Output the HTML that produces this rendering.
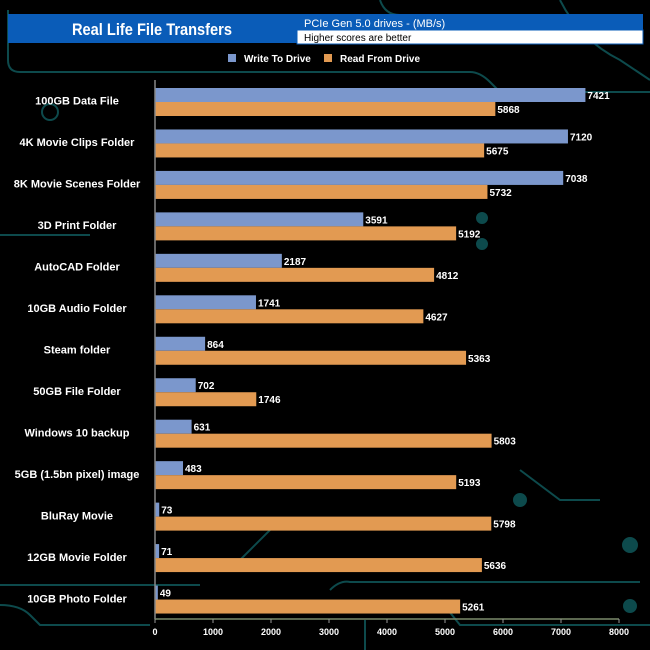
<!DOCTYPE html>
<html><head><meta charset="utf-8"><style>
html,body{margin:0;padding:0;background:#000;}
svg{display:block;font-family:"Liberation Sans",Arial,sans-serif;}
</style></head><body>
<svg id="c" width="650" height="650" viewBox="0 0 650 650">
<g stroke="#0d4a4c" stroke-width="2" fill="none">
<path d="M8 10 V60 Q8 72 20 72 H470 Q480 72 490 82 L500 92 H650"/>
<path d="M380 0 Q385 15 400 15"/>
<path d="M560 0 Q580 40 620 60 L650 80"/>
<path d="M0 235 H90"/><path d="M0 585 H200"/>
<path d="M0 605 Q20 605 30 615 L40 625 H150"/>
<path d="M330 590 Q340 580 350 582 H640"/>
<path d="M440 600 L460 625 H650"/>
<path d="M240 560 L280 520 H420"/>
<path d="M520 470 L560 500 L600 500"/>
<path d="M365 620 V650"/>
<circle cx="630" cy="545" r="7" fill="#0d4a4c"/>
<circle cx="630" cy="606" r="6" fill="#0d4a4c"/>
<circle cx="520" cy="500" r="6" fill="#0d4a4c"/>
<circle cx="482" cy="218" r="5" fill="#0d4a4c"/>
<circle cx="482" cy="244" r="5" fill="#0d4a4c"/>
<circle cx="50" cy="112" r="8"/>
</g>
<g>
<rect x="8" y="14" width="289" height="29" fill="#0a5cb8"/>
<text x="72" y="35" fill="#fff" font-size="17" font-weight="bold" textLength="160" lengthAdjust="spacingAndGlyphs">Real Life File Transfers</text>
<rect x="297" y="14" width="346" height="16" fill="#0a5cb8"/>
<rect x="297" y="30" width="346" height="14" fill="#fff" stroke="#0a5cb8"/>
<text x="304" y="27" fill="#fff" font-size="11">PCIe Gen 5.0 drives - (MB/s)</text>
<text x="304" y="41" fill="#000" font-size="10">Higher scores are better</text>
</g>
<g>
<rect x="228" y="54" width="8" height="8" fill="#7b97cc"/>
<text x="244" y="62" fill="#fff" font-size="10" font-weight="bold">Write To  Drive</text>
<rect x="324" y="54" width="8" height="8" fill="#e29a52"/>
<text x="340" y="62" fill="#fff" font-size="10" font-weight="bold">Read From Drive</text>
</g>
<g id="plot"></g>
</svg>
<script>
const categories=["100GB Data File","4K Movie Clips Folder","8K Movie Scenes Folder","3D Print Folder","AutoCAD Folder","10GB Audio Folder","Steam folder","50GB File Folder","Windows 10 backup","5GB (1.5bn pixel) image","BluRay Movie","12GB Movie Folder","10GB Photo Folder"];
const writeValues=[7421,7120,7038,3591,2187,1741,864,702,631,483,73,71,49];
const readValues=[5868,5675,5732,5192,4812,4627,5363,1746,5803,5193,5798,5636,5261];
const tickValues=[0,1000,2000,3000,4000,5000,6000,7000,8000];
const NS="http://www.w3.org/2000/svg";
const X0=155,X1=619,VMAX=8000,Y0=80,Y1=619;
const band=(Y1-Y0)/categories.length;
const xs=v=>X0+(v/VMAX)*(X1-X0);
const g=document.getElementById('plot');
function mk(tag,attrs){const e=document.createElementNS(NS,tag);for(const k in attrs)e.setAttribute(k,attrs[k]);g.appendChild(e);return e;}
categories.forEach((c,i)=>{
  const top=Y0+i*band+8;
  const lab=mk('text',{x:77,y:Y0+i*band+band/2+4,fill:'#fff','font-size':11,'font-weight':'bold','text-anchor':'middle'});
  lab.textContent=c;
  
  
  const wb=mk('rect',{x:X0,y:top,width:xs(writeValues[i])-X0,height:14,fill:'#7b97cc'});
  
  
  const rb=mk('rect',{x:X0,y:top+14,width:xs(readValues[i])-X0,height:14,fill:'#e29a52'});
  
  
  const wt=mk('text',{x:xs(writeValues[i])+2,y:top+11,fill:'#fff','font-size':10,'font-weight':'bold'});
  wt.textContent=writeValues[i];
  
  
  const rt=mk('text',{x:xs(readValues[i])+2,y:top+25,fill:'#fff','font-size':10,'font-weight':'bold'});
  rt.textContent=readValues[i];
  
  
});
const ya=mk('line',{x1:X0,y1:Y0,x2:X0,y2:Y1,stroke:'#888','stroke-width':1.5});


const xa=mk('line',{x1:X0,y1:Y1,x2:X1,y2:Y1,stroke:'#7a8a6a','stroke-width':1.5});


tickValues.forEach(t=>{
  const tk=mk('line',{x1:xs(t),y1:Y1,x2:xs(t),y2:Y1+4,stroke:'#999'});
  
  
  const tl=mk('text',{x:xs(t),y:Y1+16,fill:'#fff','font-size':9,'font-weight':'bold','text-anchor':'middle'});
  tl.textContent=t;
  
  
});
</script>
</body></html>
